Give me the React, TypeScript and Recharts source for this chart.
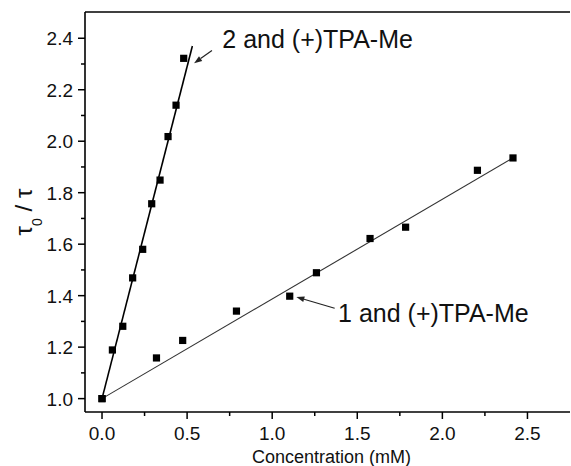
import React from 'react';
import { ScatterChart, Scatter, XAxis, YAxis, ReferenceLine, ReferenceDot } from 'recharts';

// ---- data ----
const conc2 = [0, 0.061, 0.122, 0.18, 0.239, 0.292, 0.341, 0.388, 0.435, 0.48];
const ratio2 = [1.0, 1.189, 1.281, 1.469, 1.58, 1.757, 1.849, 2.018, 2.14, 2.322];
const conc1 = [0, 0.32, 0.474, 0.79, 1.103, 1.26, 1.575, 1.784, 2.206, 2.415];
const ratio1 = [1.0, 1.158, 1.226, 1.34, 1.398, 1.489, 1.622, 1.666, 1.887, 1.935];

const fit2X = [0, 0.531];
const fit2Y = [1.0, 2.37];
const fit1X = [0, 2.415];
const fit1Y = [1.0, 1.935];

const xTicks = [0, 0.25, 0.5, 0.75, 1.0, 1.25, 1.5, 1.75, 2.0, 2.25, 2.5];
const yTicks = [1.0, 1.1, 1.2, 1.3, 1.4, 1.5, 1.6, 1.7, 1.8, 1.9, 2.0, 2.1, 2.2, 2.3, 2.4];
const xDomain = [-0.1, 2.75];
const yDomain = [0.948, 2.502];

const annotationLabels = ['2 and (+)TPA-Me', '1 and (+)TPA-Me'];
const annotationTextX = [0.707, 1.387];
const annotationTextY = [2.361, 1.298];
const arrowTailX = [0.646, 1.367];
const arrowTailY = [2.352, 1.351];
const arrowTipX = [0.541, 1.142];
const arrowTipY = [2.303, 1.395];

const FONT = '"Liberation Sans", Arial, Helvetica, sans-serif';

const zip = (xs: number[], ys: number[]) => xs.map((x, i) => ({ x, y: ys[i] }));
const series2 = zip(conc2, ratio2);
const series1 = zip(conc1, ratio1);
const fit2 = zip(fit2X, fit2Y);
const fit1 = zip(fit1X, fit1Y);

const isMajor = (v: number, step: number) => Math.abs(v / step - Math.round(v / step)) < 1e-6;

const XTick = (props: any) => {
  const { x, y, payload } = props;
  const v = payload.value as number;
  const major = isMajor(v, 0.5);
  return (
    <g>
      <line x1={x} x2={x} y1={y} y2={y + (major ? 7 : 4)} stroke="#000" strokeWidth={1.5} />
      {major && (
        <text x={x} y={y + 28} textAnchor="middle" fontSize={19} fontFamily={FONT} fill="#111">
          {v.toFixed(1)}
        </text>
      )}
    </g>
  );
};

const YTick = (props: any) => {
  const { x, y, payload } = props;
  const v = payload.value as number;
  const major = isMajor(v, 0.2);
  return (
    <g>
      <line x1={x} x2={x - (major ? 7 : 4)} y1={y} y2={y} stroke="#000" strokeWidth={1.5} />
      {major && (
        <text x={x - 12} y={y + 7} textAnchor="end" fontSize={19} fontFamily={FONT} fill="#111">
          {v.toFixed(1)}
        </text>
      )}
    </g>
  );
};

const YTitle = (props: any) => {
  const vb = props.viewBox;
  const cx = vb.x + 32;
  const cy = vb.y + vb.height / 2;
  return (
    <text
      x={cx}
      y={cy}
      transform={`rotate(-90 ${cx} ${cy})`}
      textAnchor="middle"
      fontSize={24}
      fontFamily={FONT}
      fill="#111"
    >
      τ
      <tspan fontSize={14} dy={10}>0</tspan>
      <tspan dy={-10}>{' / τ'}</tspan>
    </text>
  );
};

const XTitle = (props: any) => {
  const vb = props.viewBox;
  return (
    <text
      x={vb.x + vb.width / 2 + 4}
      y={vb.y + 51}
      textAnchor="middle"
      fontSize={18}
      fontFamily={FONT}
      fill="#111"
    >
      Concentration (mM)
    </text>
  );
};

const ArrowShape = (props: any) => {
  const { x1, y1, x2, y2 } = props;
  const dx = x2 - x1;
  const dy = y2 - y1;
  const len = Math.sqrt(dx * dx + dy * dy) || 1;
  const ux = dx / len;
  const uy = dy / len;
  const hl = 8;
  const hw = 2.8;
  const bx = x2 - ux * hl;
  const by = y2 - uy * hl;
  const pts = `${x2},${y2} ${bx - uy * hw},${by + ux * hw} ${bx + uy * hw},${by - ux * hw}`;
  return (
    <g>
      <line x1={x1} y1={y1} x2={bx} y2={by} stroke="#222" strokeWidth={1.2} />
      <polygon points={pts} fill="#222" />
    </g>
  );
};

const Square = (props: any) => {
  const { cx, cy } = props;
  if (cx == null || cy == null) return <g />;
  return <rect x={cx - 3.6} y={cy - 3.6} width={7.2} height={7.2} fill="#000" />;
};

const NoShape = () => <g />;

export default function App() {
  return (
    <div style={{ width: 571, height: 466, background: '#fff' }}>
      <style>{'body{margin:0;background:#fff}'}</style>
      <ScatterChart width={571} height={466} margin={{ top: 12, right: 1, bottom: 0, left: 0 }}>
        <XAxis
          type="number"
          dataKey="x"
          domain={xDomain}
          allowDataOverflow
          ticks={xTicks}
          interval={0}
          tickSize={0}
          tickMargin={0}
          tickLine={false}
          tick={<XTick />}
          height={54}
          axisLine={{ stroke: '#000', strokeWidth: 1.6 }}
          label={<XTitle />}
        />
        <YAxis
          type="number"
          dataKey="y"
          domain={yDomain}
          allowDataOverflow
          ticks={yTicks}
          interval={0}
          tickSize={0}
          tickMargin={0}
          tickLine={false}
          tick={<YTick />}
          width={85}
          axisLine={{ stroke: '#000', strokeWidth: 1.6 }}
          label={<YTitle />}
        />
        <ReferenceLine y={yDomain[1]} stroke="#000" strokeWidth={1.6} ifOverflow="visible" />
        <Scatter
          data={fit1}
          line={{ stroke: '#333', strokeWidth: 1.1 }}
          shape={NoShape}
          isAnimationActive={false}
        />
        <Scatter
          data={fit2}
          line={{ stroke: '#000', strokeWidth: 1.6 }}
          shape={NoShape}
          isAnimationActive={false}
        />
        <Scatter data={series1} shape={Square} isAnimationActive={false} />
        <Scatter data={series2} shape={Square} isAnimationActive={false} />
        {annotationLabels.map((label, i) => (
          <ReferenceLine
            key={`arrow-${i}`}
            segment={[
              { x: arrowTailX[i], y: arrowTailY[i] },
              { x: arrowTipX[i], y: arrowTipY[i] },
            ]}
            ifOverflow="visible"
            shape={ArrowShape}
          />
        ))}
        {annotationLabels.map((label, i) => (
          <ReferenceDot
            key={`label-${i}`}
            x={annotationTextX[i]}
            y={annotationTextY[i]}
            r={0}
            ifOverflow="visible"
            shape={(p: any) => (
              <text x={p.cx} y={p.cy} fontSize={25} fontFamily={FONT} fill="#111">
                {label}
              </text>
            )}
          />
        ))}
      </ScatterChart>
    </div>
  );
}
